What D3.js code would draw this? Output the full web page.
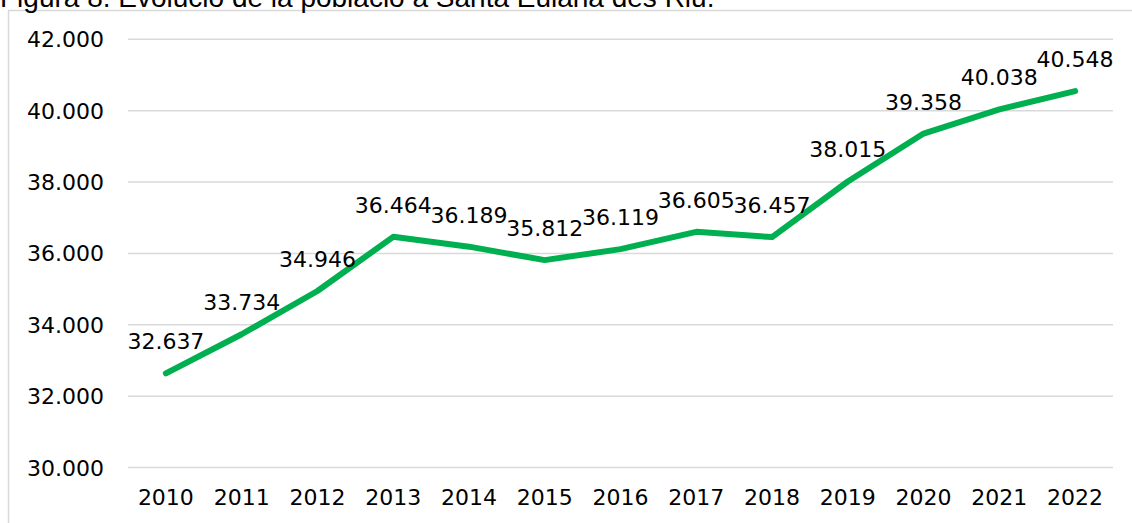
<!DOCTYPE html>
<html lang="ca">
<head>
<meta charset="UTF-8">
<title>Evolució de la població</title>
<script src="https://d3js.org/d3.v7.min.js"></script>
<style>
  body { margin: 0; background: #fff; overflow: hidden; }
  .title { font-family: "Liberation Sans", Arial, sans-serif; font-size: 28px; fill: #000; }
  .lbl { font-family: "DejaVu Sans", sans-serif; font-size: 22px; fill: #000; }
  .grid line { stroke: #d9d9d9; stroke-width: 1.5; }
</style>
</head>
<body>
<svg id="chart"></svg>
<script>
// dades
var years = ["2010", "2011", "2012", "2013", "2014", "2015", "2016", "2017", "2018", "2019", "2020", "2021", "2022"];
var population = [32637, 33734, 34946, 36464, 36189, 35812, 36119, 36605, 36457, 38015, 39358, 40038, 40548];
var yTicks = [30000, 32000, 34000, 36000, 38000, 40000, 42000];

var W = 1132, H = 523;
var svg = d3.select("#chart").attr("width", W).attr("height", H);

// format amb punt de milers
var fmt = d3.formatLocale({ decimal: ",", thousands: ".", grouping: [3], currency: ["", "€"] }).format(",d");

// marc exterior
svg.append("rect")
  .attr("x", 8.5).attr("y", 10.5)
  .attr("width", W + 20).attr("height", H + 20)
  .attr("fill", "none").attr("stroke", "#d9d9d9").attr("stroke-width", 1.5);

// títol (tallat a dalt, com a l'original)
svg.append("text").attr("class", "title")
  .attr("x", 0).attr("y", 7)
  .text("Figura 8. Evolució de la població a Santa Eulària des Riu.");

var x = d3.scaleBand().domain(years).range([128, 1113]);
var y = d3.scaleLinear().domain([30000, 42000]).range([467.5, 39.3]);

// línies de graella
svg.append("g").attr("class", "grid")
  .selectAll("line").data(yTicks).enter().append("line")
  .attr("x1", 128).attr("x2", 1113)
  .attr("y1", d => y(d)).attr("y2", d => y(d));

// etiquetes eix Y
svg.selectAll("text.ytick").data(yTicks).enter().append("text")
  .attr("class", "lbl ytick")
  .attr("x", 104).attr("y", d => y(d) + 8)
  .attr("text-anchor", "end")
  .text(d => fmt(d));

// etiquetes eix X
svg.selectAll("text.xtick").data(years).enter().append("text")
  .attr("class", "lbl xtick")
  .attr("x", d => x(d) + x.bandwidth() / 2).attr("y", 505)
  .attr("text-anchor", "middle")
  .text(d => d);

var data = years.map((d, i) => ({ year: d, value: population[i] }));

// línia
var line = d3.line()
  .x(d => x(d.year) + x.bandwidth() / 2)
  .y(d => y(d.value));

svg.append("path").datum(data)
  .attr("d", line)
  .attr("fill", "none")
  .attr("stroke", "#00b050")
  .attr("stroke-width", 6)
  .attr("stroke-linejoin", "round")
  .attr("stroke-linecap", "round");

// etiquetes de dades
svg.selectAll("text.val").data(data).enter().append("text")
  .attr("class", "lbl val")
  .attr("x", d => x(d.year) + x.bandwidth() / 2)
  .attr("y", d => y(d.value) - 24)
  .attr("text-anchor", "middle")
  .text(d => fmt(d.value));
</script>
</body>
</html>
